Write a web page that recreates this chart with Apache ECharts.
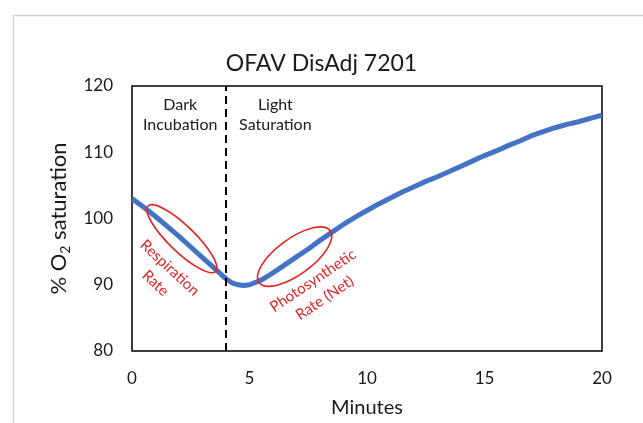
<!DOCTYPE html>
<html>
<head>
<meta charset="utf-8">
<script src="https://cdn.jsdelivr.net/npm/echarts@6/dist/echarts.min.js"></script>
<style>html,body{margin:0;padding:0;background:#fff;}#c{width:643px;height:423px;}</style>
</head>
<body>
<div id="c"></div>
<script>
// Data
const minutes = [0,0.5,1,1.5,2,2.5,3,3.5,4,4.25,4.5,4.75,5,5.5,6,6.5,7,7.5,8,8.5,9,9.5,10,10.5,11,11.5,12,12.5,13,13.5,14,14.5,15,15.5,16,16.5,17,17.5,18,18.5,19,19.5,20];
const o2sat = [103.0,101.7,100.3,98.8,97.3,95.7,94.1,92.5,90.9,90.3,90.0,89.9,90.0,90.7,91.8,93.0,94.2,95.4,96.7,97.9,99.1,100.2,101.2,102.2,103.1,104.0,104.8,105.6,106.3,107.1,107.9,108.7,109.5,110.2,111.0,111.7,112.5,113.1,113.7,114.2,114.6,115.1,115.6];
const xTicks = [0,5,10,15,20];
const yTicks = [80,90,100,110,120];
const phaseBoundary = 4;
const chartTitle = 'OFAV DisAdj 7201';
const phaseLabels = [
  {text: 'Dark\nIncubation', at: [2.05, 115.6]},
  {text: 'Light\nSaturation', at: [6.1, 115.6]}
];
const rateLabels = [
  {text: 'Respiration\nRate', at: [1.3, 91.4], angle: -43},
  {text: 'Photosynthetic\nRate (Net)', at: [7.95, 89.3], angle: 34}
];
const ellipses = [
  {at: [2.12, 96.95], a: 47, b: 13, angle: -44},
  {at: [6.92, 94.25], a: 44, b: 18, angle: 36}
];

const FONT = 'Lato, "Open Sans", sans-serif';
const chart = echarts.init(document.getElementById('c'), null, {renderer: 'canvas'});
const data = minutes.map((m, i) => [m, o2sat[i]]);

chart.setOption({
  animation: false,
  backgroundColor: '#fff',
  title: {
    text: chartTitle, left: 'center', top: 47,
    textStyle: {fontFamily: FONT, fontSize: 23, fontWeight: 'normal', color: '#1a1a1a'}
  },
  grid: {left: 132, right: 41, top: 86, bottom: 68, show: true, borderColor: '#000', borderWidth: 1.5, backgroundColor: 'transparent'},
  xAxis: {
    type: 'value', min: xTicks[0], max: xTicks[xTicks.length-1], interval: 5,
    name: 'Minutes', nameLocation: 'middle', nameGap: 47,
    nameTextStyle: {fontFamily: FONT, fontSize: 20, color: '#1a1a1a'},
    axisLine: {show: false}, axisTick: {show: false}, splitLine: {show: false},
    axisLabel: {fontFamily: FONT, fontSize: 17, color: '#1a1a1a', margin: 19}
  },
  yAxis: {
    type: 'value', min: yTicks[0], max: yTicks[yTicks.length-1], interval: 10,
    name: '% O{sub|2} saturation', nameLocation: 'middle', nameGap: 60,
    nameTextStyle: {fontFamily: FONT, fontSize: 22, color: '#1a1a1a', lineHeight: 27,
      rich: {sub: {fontFamily: FONT, fontSize: 14, color: '#1a1a1a', verticalAlign: 'bottom', lineHeight: 14}}},
    axisLine: {show: false}, axisTick: {show: false}, splitLine: {show: false},
    axisLabel: {fontFamily: FONT, fontSize: 17, color: '#1a1a1a', margin: 19}
  },
  series: [{
    type: 'line', data: data, showSymbol: false, smooth: false,
    lineStyle: {color: '#4472C4', width: 5},
    markLine: {
      silent: true, symbol: ['none','none'], label: {show: false},
      lineStyle: {color: '#000', type: [8, 5], width: 2},
      data: [{xAxis: phaseBoundary}]
    },
    z: 3
  }]
});

const gfx = [{
  type: 'rect', left: 11, top: 13, z: 0, silent: true,
  shape: {width: 700, height: 500},
  style: {fill: 'none', stroke: '#d4d4d4', lineWidth: 1.5}
}];
phaseLabels.forEach(p => {
  const [x, y] = chart.convertToPixel({gridIndex: 0}, p.at);
  gfx.push({type: 'text', x: x, y: y, z: 10,
    style: {text: p.text, fontFamily: FONT, fontSize: 16, lineHeight: 20, fill: '#1a1a1a', align: 'center', verticalAlign: 'middle'}});
});
rateLabels.forEach(p => {
  const [x, y] = chart.convertToPixel({gridIndex: 0}, p.at);
  gfx.push({type: 'text', x: x, y: y, rotation: p.angle * Math.PI / 180, z: 10,
    style: {text: p.text, fontFamily: FONT, fontSize: 15, lineHeight: 21, fill: '#E02424', align: 'center', verticalAlign: 'middle'}});
});
ellipses.forEach(e => {
  const [x, y] = chart.convertToPixel({gridIndex: 0}, e.at);
  gfx.push({type: 'ellipse', x: x, y: y, rotation: e.angle * Math.PI / 180, z: 10,
    shape: {cx: 0, cy: 0, rx: e.a, ry: e.b},
    style: {fill: 'none', stroke: '#E02424', lineWidth: 1.6}});
});
chart.setOption({graphic: gfx});
</script>
</body>
</html>
